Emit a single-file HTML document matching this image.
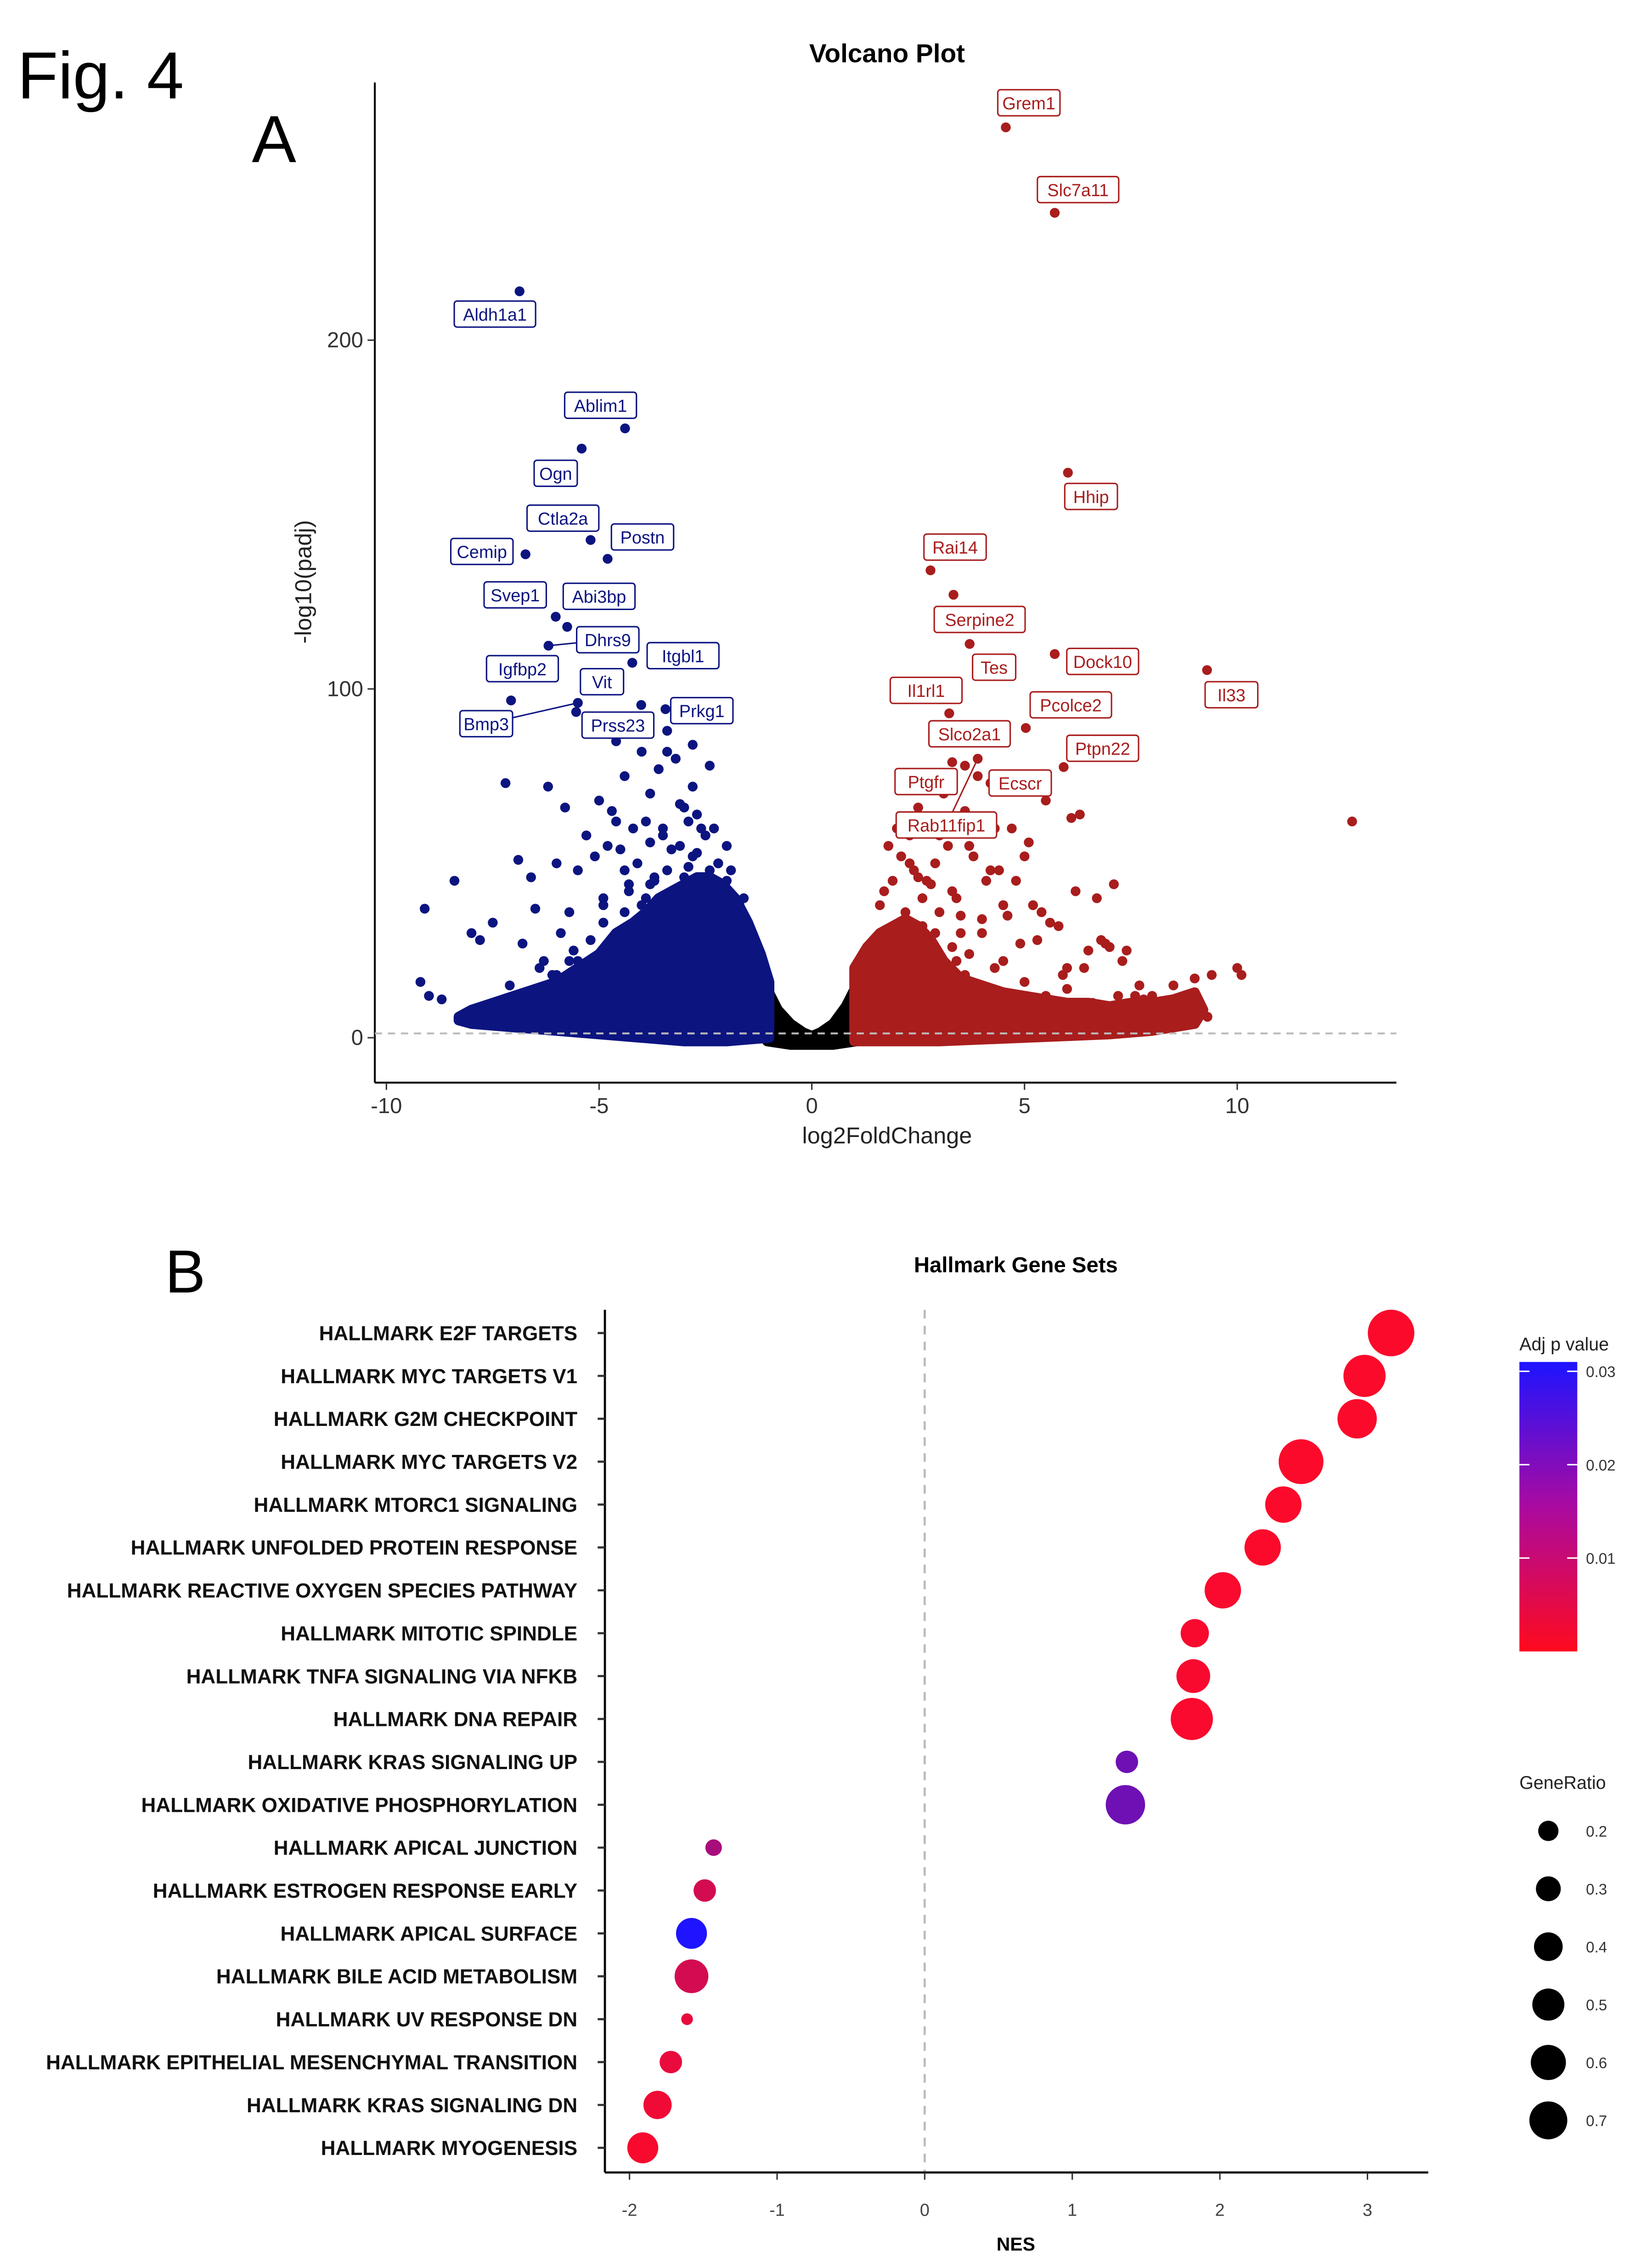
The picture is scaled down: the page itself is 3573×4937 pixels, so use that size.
<!DOCTYPE html>
<html><head><meta charset="utf-8"><title>Fig. 4</title>
<style>
html,body{margin:0;padding:0;background:#fff;}
svg{display:block;font-family:"Liberation Sans",Arial,sans-serif;}
</style></head>
<body>
<svg id="fig" xmlns="http://www.w3.org/2000/svg" width="3573" height="4937" viewBox="0 0 1134 1567">
<rect width="1142" height="1578" fill="#fff"/>
<text x="12" y="68" font-size="46">Fig. 4</text>
<text x="174" y="112" font-size="46">A</text>
<text x="114" y="893" font-size="42">B</text>
<g id="volcano"></g>
<g id="dotplot"></g>
</svg>
<script>
// ===== Volcano data =====
const geneNames = ["Grem1","Slc7a11","Aldh1a1","Ablim1","Ogn","Hhip","Ctla2a","Postn","Cemip","Rai14","Serpine2","Svep1","Abi3bp","Tes","Dhrs9","Dock10","Il33","Itgbl1","Igfbp2","Vit","Prss23","Prkg1","Pcolce2","Il1rl1","Bmp3","Slco2a1","Ptpn22","Ptgfr","Ecscr","Rab11fip1"];
const geneLFC = [4.56,5.71,-6.87,-4.39,-5.41,6.02,-5.2,-4.8,-6.73,2.79,3.33,-6.02,-5.75,3.71,-6.19,5.71,9.29,-4.22,-7.07,-4.01,-5.54,-3.44,5.03,3.23,-5.5,3.3,5.92,3.6,4.2,3.9];
const genePadj = [261,236.5,214,174.7,168.9,162,142.7,137.3,138.6,134,127,120.7,117.8,112.9,112.4,110,105.4,107.5,96.7,95.4,93.4,94.2,88.8,93,96,79,77.6,78,73,80];
const geneDir = ["up","up","down","down","down","up","down","down","down","up","up","down","down","up","down","up","up","down","down","down","down","down","up","up","down","up","up","up","up","up"];
// label box centers (layout, not data)
const labelPos = [[711,71],[745,131],[342,217],[415,280],[384,327],[754,343],[389,358],[444,371],[333,381],[660,378],[677,428],[356,411],[414,412],[687,461],[420,442],[762,457],[851,480],[472,453],[361,462],[416,471],[427,501],[485,491],[740,487],[640,477],[336,500],[670,507],[762,517],[640,540],[705,541],[654,570]];
// other individual points
const downX = [-9.1,-9.2,-9.0,-8.7,-8.4,-8.0,-7.5,-7.2,-6.9,-6.8,-6.5,-6.2,-6.0,-5.8,-5.5,-5.3,-5.0,-4.8,-4.6,-4.4,-4.2,-4.0,-3.8,-3.6,-3.4,-3.2,-3.0,-2.8,-2.6,-2.4,-2.2,-2.0,-6.6,-6.3,-5.9,-5.7,-5.2,-4.9,-4.5,-4.3,-4.1,-3.9,-3.7,-3.5,-3.3,-3.1,-2.9,-2.7,-2.5,-2.3,-7.8,-7.1,-6.4,-5.6,-5.1,-4.7,-3.6,-3.0,-2.6,-2.2,-4.4,-3.8,-4.9,-5.4,-6.1,-2.8,-3.4,-4.6,
  -5.5,-5.2,-4.9,-4.6,-4.3,-4.0,-3.7,-3.4,-3.1,-2.8,-2.5,-2.2,-1.9,-1.6,-1.4,-5.0,-4.7,-4.4,-4.1,-3.8,-3.5,-3.2,-2.9,-2.6,-2.3,-2.0,-1.7,-4.5,-4.2,-3.9,-3.6,-3.3,-3.0,-2.7,-2.4,-2.1,-1.8,-1.5,-6.8,-6.5,-6.0,-5.7,-7.3,-7.6];
const downY = [37,16,12,11,45,30,33,73,51,27,37,72,50,66,48,58,68,55,62,75,60,82,70,77,82,80,66,72,60,78,50,45,46,22,30,36,14,40,54,44,25,62,46,58,54,67,49,64,37,42,28,15,20,25,52,65,40,35,30,22,48,56,38,16,18,84,88,85,
  22,28,33,30,42,38,45,48,55,52,58,50,48,40,30,18,24,36,50,44,60,40,62,45,60,55,38,26,32,40,35,30,46,53,48,42,35,25,10,14,18,22,8,9];
const upX = [2.3,2.6,3.0,3.3,3.5,3.7,4.0,4.2,4.5,4.8,5.0,5.3,5.5,5.8,6.0,6.3,6.7,7.1,7.4,7.7,8.0,8.5,9.0,9.4,10.0,10.1,12.7,3.1,3.9,4.4,4.7,5.2,5.6,6.1,6.5,6.9,7.3,2.9,3.4,4.1,4.9,5.4,5.9,6.4,7.0,7.6,8.2,8.8,9.3,2.5,3.6,4.3,5.1,6.2,6.8,7.5,2.7,3.2,3.8,4.6,
  1.6,1.9,2.1,2.4,2.8,3.0,3.4,3.7,4.0,4.3,1.8,2.2,2.6,3.3,3.6,4.1,4.5,5.0,5.5,6.0,6.6,7.2,7.8,8.4,2.0,2.5,2.9,3.5,1.7,2.3];
const upY = [50,40,58,42,35,55,30,48,38,45,52,28,68,32,20,64,40,44,25,15,12,15,17,18,20,18,62,70,75,48,60,38,33,63,25,27,22,30,22,45,27,36,18,20,26,12,10,8,6,66,65,60,56,42,28,9,45,55,52,35,
  38,45,52,48,44,36,40,24,34,20,55,36,32,26,18,14,22,16,12,14,10,12,11,9,60,46,50,30,42,58];
// dense cloud envelopes
const downEnvX = [-8.3,-8.0,-7.5,-7.0,-6.5,-6.0,-5.5,-5.0,-4.6,-4.2,-3.9,-3.6,-3.3,-3.0,-2.7,-2.4,-2.1,-1.8,-1.5,-1.2,-1.0,-1.0,-2.0,-3.0,-4.0,-5.0,-6.0,-7.0,-8.0,-8.3];
const downEnvY = [6,8,10,12,14,16,20,24,30,33,36,40,42,44,46,46,44,40,33,24,16,0,-1,-1,0,1,2,3,4,5];
const upEnvX = [1.0,1.0,1.3,1.6,1.9,2.2,2.5,2.8,3.1,3.5,4.0,4.5,5.0,5.5,6.0,6.5,7.0,7.5,8.0,8.5,9.0,9.2,9.0,8.0,7.0,6.0,5.0,4.0,3.0,2.0,1.0];
const upEnvY = [0,20,26,30,32,34,32,28,22,17,15,13,12,11,10,10,9,10,10,11,13,8,4,2,1,0.5,0,-0.5,-1,-1,-1];
const nsEnvX = [-1.05,-0.8,-0.5,-0.2,0,0.2,0.5,0.8,1.05,1.05,0.5,0,-0.5,-1.05];
const nsEnvY = [14,8,4,1.5,0.5,1.5,4,9,15,-1,-2,-2,-2,-1];
const xTicksV = [-10,-5,0,5,10];
const yTicksV = [0,100,200];

// ===== Hallmark data =====
const pathways = ["HALLMARK E2F TARGETS","HALLMARK MYC TARGETS V1","HALLMARK G2M CHECKPOINT","HALLMARK MYC TARGETS V2","HALLMARK MTORC1 SIGNALING","HALLMARK UNFOLDED PROTEIN RESPONSE","HALLMARK REACTIVE OXYGEN SPECIES PATHWAY","HALLMARK MITOTIC SPINDLE","HALLMARK TNFA SIGNALING VIA NFKB","HALLMARK DNA REPAIR","HALLMARK KRAS SIGNALING UP","HALLMARK OXIDATIVE PHOSPHORYLATION","HALLMARK APICAL JUNCTION","HALLMARK ESTROGEN RESPONSE EARLY","HALLMARK APICAL SURFACE","HALLMARK BILE ACID METABOLISM","HALLMARK UV RESPONSE DN","HALLMARK EPITHELIAL MESENCHYMAL TRANSITION","HALLMARK KRAS SIGNALING DN","HALLMARK MYOGENESIS"];
const nesValues = [3.16,2.98,2.93,2.55,2.43,2.29,2.02,1.83,1.82,1.81,1.37,1.36,-1.43,-1.49,-1.58,-1.58,-1.61,-1.72,-1.81,-1.91];
const padjValues = [0.0005,0.0005,0.0005,0.0005,0.0005,0.0005,0.0008,0.001,0.001,0.0008,0.02,0.02,0.012,0.006,0.031,0.006,0.003,0.003,0.002,0.001];
const geneRatios = [0.95,0.78,0.68,0.88,0.58,0.58,0.58,0.35,0.5,0.78,0.22,0.68,0.12,0.22,0.42,0.5,0.06,0.22,0.35,0.42];
const xTicksB = [-2,-1,0,1,2,3];
const padjTicks = [0.01,0.02,0.03];
const ratioLegend = [0.2,0.3,0.4,0.5,0.6,0.7];

const NS = "http://www.w3.org/2000/svg";
function mk(parent, tag, attrs, text){
  const e = document.createElementNS(NS, tag);
  for (const k in attrs) e.setAttribute(k, attrs[k]);
  if (text !== undefined) e.textContent = text;
  parent.appendChild(e);
  return e;
}

// ===== Volcano =====
(function(){
  const g = document.getElementById('volcano');
  const xS = v => 561 + v*29.4;
  const yS = v => 717 - v*2.41;
  const blue = "#0c1480", red = "#a91d1d";
  let t = mk(g,'text',{x:613,y:43,'font-size':18,'font-weight':'bold','text-anchor':'middle'},'Volcano Plot');
   
  let ax = mk(g,'line',{x1:259,y1:57,x2:259,y2:748,stroke:'#000','stroke-width':1.3});
   
  ax = mk(g,'line',{x1:259,y1:748,x2:965,y2:748,stroke:'#000','stroke-width':1.3});
   
  xTicksV.forEach(v=>{
    mk(g,'line',{x1:xS(v),y1:748,x2:xS(v),y2:753,stroke:'#333'});
    const tl = mk(g,'text',{x:xS(v),y:769,'font-size':15,'text-anchor':'middle',fill:'#333'},String(v));
     
  });
  yTicksV.forEach(v=>{
    mk(g,'line',{x1:254,y1:yS(v),x2:259,y2:yS(v),stroke:'#333'});
    const tl = mk(g,'text',{x:251,y:yS(v)+5,'font-size':15,'text-anchor':'end',fill:'#333'},String(v));
     
  });
  t = mk(g,'text',{x:613,y:790,'font-size':16,'text-anchor':'middle',fill:'#222'},'log2FoldChange');
   
  t = mk(g,'text',{x:0,y:0,'font-size':16,'text-anchor':'middle',fill:'#222',transform:'translate(215,402) rotate(-90)'},'-log10(padj)');
   
  function env(xs, ys, col, name){
    const pts = xs.map((x,i)=>xS(x)+','+yS(ys[i])).join(' ');
    const p = mk(g,'polygon',{points:pts,fill:col,stroke:col,'stroke-width':7,'stroke-linejoin':'round'});
     
  }
  env(nsEnvX, nsEnvY, '#000', 'nonsignificant-cloud');
  env(downEnvX, downEnvY, blue, 'downregulated-cloud');
  env(upEnvX, upEnvY, red, 'upregulated-cloud');
  downX.forEach((x,i)=>{
    const c = mk(g,'circle',{cx:xS(x),cy:yS(downY[i]),r:3.4,fill:blue});
     
  });
  upX.forEach((x,i)=>{
    const c = mk(g,'circle',{cx:xS(x),cy:yS(upY[i]),r:3.4,fill:red});
     
  });
  const th = mk(g,'line',{x1:259,y1:714,x2:965,y2:714,stroke:'#bbb','stroke-width':1.3,'stroke-dasharray':'5,4'});
   
  geneNames.forEach((n,i)=>{
    const col = geneDir[i]==='up' ? red : blue;
    const px = xS(geneLFC[i]), py = yS(genePadj[i]);
    const [lx,ly] = labelPos[i];
    const w = n.length*6.6+10;
    if (Math.hypot(lx-px, ly-py) > 40) {
      mk(g,'line',{x1:px,y1:py,x2:lx,y2:ly,stroke:col,'stroke-width':1});
    }
    const c = mk(g,'circle',{cx:px,cy:py,r:3.4,fill:col});
     
    const bx = mk(g,'rect',{x:lx-w/2,y:ly-9,width:w,height:18,rx:2,fill:'#fff',stroke:col,'stroke-width':1});
     
    const tx = mk(g,'text',{x:lx,y:ly+4.5,'font-size':12,'text-anchor':'middle',fill:col},n);
     
  });
})();

// ===== Dot plot =====
(function(){
  const g = document.getElementById('dotplot');
  const xS = v => 639 + v*102;
  const yS = i => 921 + i*29.63;
  const rS = v => 16.5*Math.sqrt(v);
  function colr(p){
    const f = Math.max(0, Math.min(1, p/0.031));
    const r = Math.round(255*(1-f) + 30*f);
    const gg = Math.round(10*(1-f) + 20*f);
    const b = Math.round(40*(1-f) + 255*f);
    return 'rgb('+r+','+gg+','+b+')';
  }
  let t = mk(g,'text',{x:702,y:879,'font-size':15,'font-weight':'bold','text-anchor':'middle'},'Hallmark Gene Sets');
   
  const zl = mk(g,'line',{x1:xS(0),y1:905,x2:xS(0),y2:1501,stroke:'#bbb','stroke-width':1.5,'stroke-dasharray':'6,5'});
   
  let ax = mk(g,'line',{x1:418,y1:905,x2:418,y2:1501,stroke:'#000','stroke-width':1.5});
   
  ax = mk(g,'line',{x1:418,y1:1501,x2:987,y2:1501,stroke:'#000','stroke-width':1.5});
   
  xTicksB.forEach(v=>{
    mk(g,'line',{x1:xS(v),y1:1501,x2:xS(v),y2:1506,stroke:'#333'});
    const tl = mk(g,'text',{x:xS(v),y:1531,'font-size':12,'text-anchor':'middle',fill:'#444'},String(v));
     
  });
  t = mk(g,'text',{x:702,y:1555,'font-size':13,'font-weight':'bold','text-anchor':'middle'},'NES');
   
  pathways.forEach((n,i)=>{
    mk(g,'line',{x1:413,y1:yS(i),x2:418,y2:yS(i),stroke:'#333','stroke-width':1.5});
    const tl = mk(g,'text',{x:399,y:yS(i)+5,'font-size':14,'font-weight':'bold','text-anchor':'end',fill:'#111'},n);
     
    const c = mk(g,'circle',{cx:xS(nesValues[i]),cy:yS(i),r:rS(geneRatios[i]),fill:colr(padjValues[i])});
     
  });
  const defs = mk(g,'defs',{});
  const lg = mk(defs,'linearGradient',{id:'pgrad',x1:0,y1:0,x2:0,y2:1});
  mk(lg,'stop',{offset:'0%','stop-color':'rgb(30,20,255)'});
  mk(lg,'stop',{offset:'50%','stop-color':'rgb(170,10,160)'});
  mk(lg,'stop',{offset:'100%','stop-color':'rgb(255,10,30)'});
  t = mk(g,'text',{x:1050,y:933,'font-size':12.5,fill:'#222'},'Adj p value');
   
  const barTop = 941, barBot = 1141, pS = p => barBot - (p/0.031)*(barBot-barTop);
  const cb = mk(g,'rect',{x:1050,y:barTop,width:40,height:barBot-barTop,fill:'url(#pgrad)'});
   
  padjTicks.forEach(v=>{
    mk(g,'line',{x1:1050,y1:pS(v),x2:1057,y2:pS(v),stroke:'#fff'});
    mk(g,'line',{x1:1083,y1:pS(v),x2:1090,y2:pS(v),stroke:'#fff'});
    const tl = mk(g,'text',{x:1096,y:pS(v)+4,'font-size':10.5,fill:'#333'},v.toFixed(2));
     
  });
  t = mk(g,'text',{x:1050,y:1236,'font-size':12.5,fill:'#222'},'GeneRatio');
   
  ratioLegend.forEach((v,i)=>{
    const y = 1265 + i*40;
    const c = mk(g,'circle',{cx:1070,cy:y,r:rS(v)*0.95,fill:'#000'});
     
    const tl = mk(g,'text',{x:1096,y:y+4,'font-size':10.5,fill:'#333'},String(v));
     
  });
})();
</script>
</body></html>
